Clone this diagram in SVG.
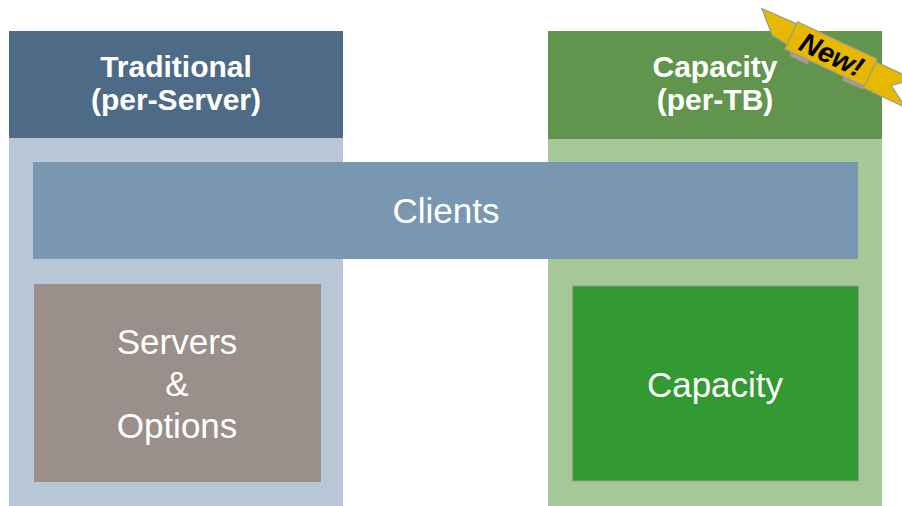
<svg xmlns="http://www.w3.org/2000/svg" width="902" height="506" viewBox="0 0 902 506">
  <style>
    .hdr { font-family: "Liberation Sans", Arial, sans-serif; font-size: 30px; font-weight: bold; fill: #ffffff; text-anchor: middle; }
    .lbl { font-family: "Liberation Sans", Arial, sans-serif; font-size: 35px; fill: #ffffff; text-anchor: middle; }
    .rib { fill: #E6B800; stroke: #9A9A9A; stroke-width: 1.2; stroke-linejoin: round; }
    .fold { fill: #A89C90; stroke: #9A9A9A; stroke-width: 1; }
    .new { font-family: "Liberation Sans", Arial, sans-serif; font-size: 28px; font-weight: bold; font-style: italic; fill: #000000; text-anchor: middle; }
  </style>
  <rect width="902" height="506" fill="#ffffff"/>

  <g id="traditional">
    <rect x="9" y="138" width="334" height="368" fill="#B8C7D5"/>
    <rect x="9" y="31" width="334" height="107" fill="#4D6A87"/>
    <text class="hdr" x="176" y="77">Traditional</text>
    <text class="hdr" x="176" y="110">(per-Server)</text>
  </g>

  <g id="capacity-col">
    <rect x="548" y="139" width="334" height="367" fill="#A5C896"/>
    <rect x="548" y="31" width="334" height="108" fill="#61944D"/>
    <text class="hdr" x="715" y="77">Capacity</text>
    <text class="hdr" x="715" y="110">(per-TB)</text>
  </g>

  <g id="clients">
    <rect x="33" y="162" width="825" height="97" fill="#7A97B2"/>
    <text class="lbl" x="446" y="223">Clients</text>
  </g>

  <g id="servers">
    <rect x="34" y="284" width="287" height="198" fill="#9A8F8A"/>
    <text class="lbl" x="177" y="354">Servers</text>
    <text class="lbl" x="177" y="396">&amp;</text>
    <text class="lbl" x="177" y="438">Options</text>
  </g>

  <g id="capacity">
    <rect x="572.5" y="286" width="286" height="195" fill="#339933" stroke="#999999" stroke-width="1"/>
    <text class="lbl" x="715" y="397">Capacity</text>
  </g>

  <g id="new-banner" transform="translate(831,54) rotate(25)">
    <polygon class="rib" points="-82,-12 -38,-13 -36,11 -61,8"/>
    <polygon class="rib" points="38,-12 86,-12 68,3 90,17 38,17"/>
    <polygon class="fold" points="-38,13 -18,13 -17,19 -36,19"/>
    <polygon class="fold" points="20,13 43,13 44,18 22,19"/>
    <rect class="rib" x="-44" y="-15" width="88" height="30"/>
    <text class="new" x="1" y="10">New!</text>
  </g>

  <g id="connectors"></g>
</svg>
